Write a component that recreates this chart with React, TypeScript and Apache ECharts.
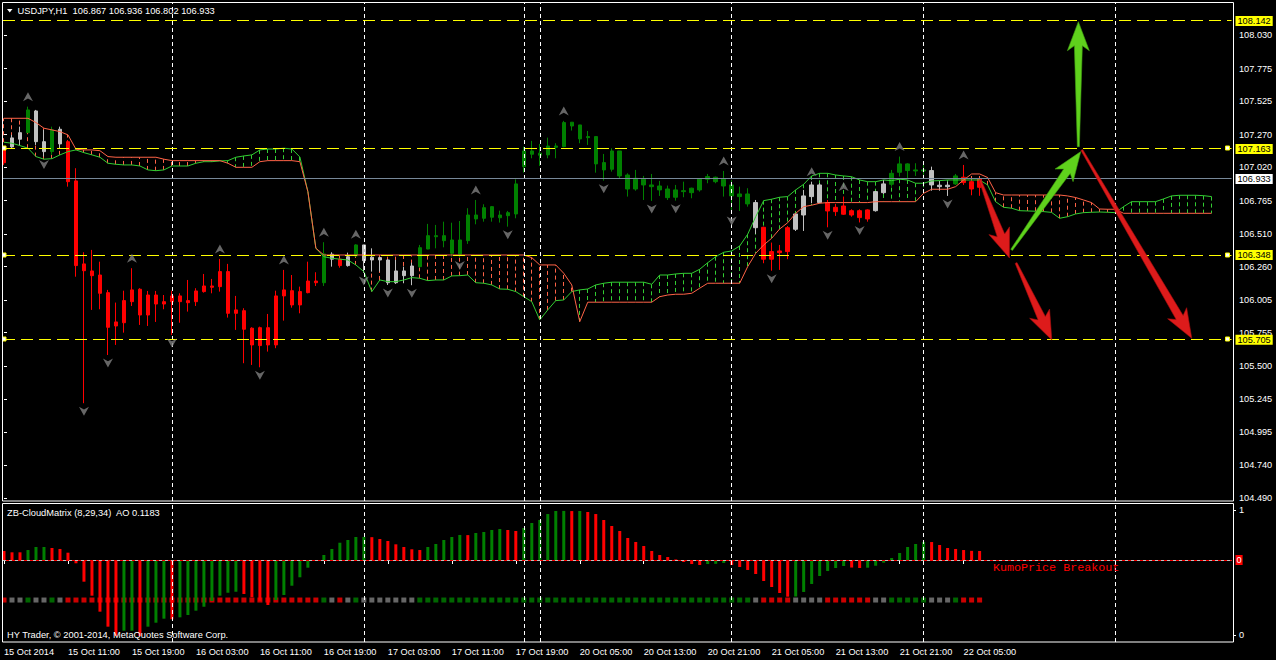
import React, { useEffect, useRef } from "react";
import * as echarts from "echarts";

// ---------------- data ----------------
const xTickLabels = [
  "15 Oct 2014", "15 Oct 11:00", "15 Oct 19:00", "16 Oct 03:00", "16 Oct 11:00", "16 Oct 19:00",
  "17 Oct 03:00", "17 Oct 11:00", "17 Oct 19:00", "20 Oct 05:00", "20 Oct 13:00", "20 Oct 21:00",
  "21 Oct 05:00", "21 Oct 13:00", "21 Oct 21:00", "22 Oct 05:00",
];

const priceTicks = [104.49, 104.74, 104.995, 105.245, 105.5, 105.755, 106.005, 106.26, 106.51, 106.765, 107.02, 107.27, 107.525, 107.775, 108.03];

const candleOpen = [
  107.166, 107.176, 107.235, 107.285, 107.451, 107.216, 107.14, 107.311, 107.216, 106.916,
  106.281, 106.227, 106.196, 106.061, 105.837, 106.0, 106.082, 106.087, 106.043, 106.043,
  105.992, 106.036, 106.036, 106.0, 106.074, 106.112, 106.112, 106.222, 106.222, 105.929,
  105.923, 105.789, 105.793, 105.793, 106.036, 106.082, 106.076, 106.069, 106.15, 106.15,
  106.137, 106.355, 106.317, 106.268, 106.342, 106.426, 106.311, 106.329, 106.311, 106.137,
  106.227, 106.191, 106.26, 106.395, 106.489, 106.459, 106.362, 106.355, 106.459, 106.625,
  106.63, 106.638, 106.634, 106.65, 106.663, 107.025, 107.12, 107.112, 107.115, 107.173,
  107.178, 107.336, 107.344, 107.247, 107.255, 107.056, 107.005, 107.145, 106.961, 106.854,
  106.929, 106.885, 106.877, 106.854, 106.791, 106.834, 106.826, 106.847, 106.929, 106.944,
  106.929, 106.885, 106.796, 106.816, 106.75, 106.561, 106.375, 106.38, 106.558, 106.546,
  106.655, 106.796, 106.885, 106.75, 106.714, 106.724, 106.688, 106.688, 106.694, 106.688,
  106.826, 106.89, 106.982, 107.046, 106.992, 107.0, 106.995, 106.883, 106.872, 106.893,
  106.944, 106.91, 106.867,
];
const candleClose = [
  107.055, 107.245, 107.285, 107.459, 107.216, 107.14, 107.306, 107.199, 106.91, 106.268,
  106.229, 106.191, 106.056, 105.796, 105.806, 105.831, 105.992, 105.89, 105.89, 105.974,
  105.974, 105.992, 105.992, 105.984, 105.992, 106.069, 106.102, 106.107, 105.903, 105.903,
  105.781, 105.661, 105.656, 105.661, 105.661, 106.036, 105.967, 105.967, 106.061, 106.137,
  106.357, 106.317, 106.268, 106.336, 106.426, 106.306, 106.332, 106.311, 106.137, 106.227,
  106.191, 106.265, 106.405, 106.497, 106.497, 106.497, 106.464, 106.464, 106.655, 106.655,
  106.711, 106.719, 106.655, 106.673, 106.893, 107.145, 107.145, 107.128, 107.183, 107.183,
  107.362, 107.365, 107.237, 107.255, 107.046, 107.0, 107.145, 106.954, 106.854, 106.936,
  106.885, 106.872, 106.847, 106.788, 106.847, 106.841, 106.86, 106.929, 106.949, 106.91,
  106.877, 106.801, 106.816, 106.74, 106.558, 106.317, 106.317, 106.367, 106.375, 106.663,
  106.801, 106.885, 106.75, 106.686, 106.681, 106.661, 106.655, 106.635, 106.625, 106.834,
  106.893, 106.974, 107.046, 106.995, 107.0, 106.992, 106.885, 106.872, 106.883, 106.954,
  106.903, 106.854, 106.933,
];
const candleHigh = [
  107.184, 107.268, 107.331, 107.484, 107.459, 107.306, 107.331, 107.331, 107.229, 107.013,
  106.37, 106.388, 106.298, 106.082, 105.985, 106.076, 106.248, 106.095, 106.074, 106.074,
  106.043, 106.076, 106.056, 106.158, 106.095, 106.204, 106.166, 106.319, 106.281, 106.036,
  105.942, 105.796, 105.801, 105.898, 106.076, 106.235, 106.196, 106.107, 106.298, 106.217,
  106.447, 106.37, 106.324, 106.367, 106.431, 106.426, 106.4, 106.336, 106.317, 106.311,
  106.26, 106.29, 106.426, 106.587, 106.579, 106.604, 106.596, 106.609, 106.707, 106.77,
  106.737, 106.724, 106.688, 106.686, 106.928, 107.178, 107.222, 107.199, 107.247, 107.204,
  107.375, 107.365, 107.344, 107.298, 107.255, 107.122, 107.166, 107.145, 106.974, 107.0,
  106.954, 106.969, 106.916, 106.88, 106.885, 106.91, 106.864, 106.929, 106.969, 106.949,
  106.992, 106.923, 106.872, 106.86, 106.77, 106.566, 106.444, 106.426, 106.571, 106.668,
  106.847, 106.91, 106.898, 106.77, 106.74, 106.796, 106.699, 106.699, 106.699, 106.839,
  106.923, 107.0, 107.102, 107.051, 107.051, 107.051, 107.025, 106.916, 106.91, 106.969,
  107.038, 106.923, 106.936,
];
const candleLow = [
  107.038, 107.168, 107.191, 107.283, 107.191, 107.102, 107.115, 107.166, 106.872, 106.183,
  105.215, 105.929, 105.934, 105.584, 105.661, 105.755, 105.959, 105.814, 105.806, 105.837,
  105.934, 105.737, 105.831, 105.916, 105.959, 106.061, 106.056, 106.069, 105.87, 105.776,
  105.521, 105.508, 105.49, 105.61, 105.636, 105.847, 105.946, 105.903, 106.056, 106.112,
  106.112, 106.26, 106.252, 106.26, 106.336, 106.212, 106.222, 106.222, 106.12, 106.128,
  106.133, 106.118, 106.252, 106.393, 106.4, 106.408, 106.336, 106.33, 106.434, 106.584,
  106.604, 106.604, 106.597, 106.566, 106.63, 106.979, 107.089, 107.03, 107.089, 107.089,
  107.173, 107.301, 107.204, 107.191, 106.979, 106.918, 106.987, 106.936, 106.796, 106.841,
  106.77, 106.763, 106.801, 106.77, 106.765, 106.791, 106.783, 106.834, 106.898, 106.898,
  106.796, 106.671, 106.686, 106.719, 106.51, 106.286, 106.229, 106.235, 106.317, 106.533,
  106.533, 106.745, 106.745, 106.561, 106.648, 106.655, 106.642, 106.598, 106.604, 106.681,
  106.816, 106.872, 106.949, 106.936, 106.954, 106.944, 106.841, 106.841, 106.801, 106.885,
  106.885, 106.806, 106.802,
];
// r = red, g = green, w = grey (candle colour, also the square row of the indicator)
const candleState = (
  "rwwgwwgw" +
  "rrrrrrrrrr" + "rrrrrrrrrr" + "rrrrrrrrrr" + "rr" +
  "gwrwg" + "wwwwwww" +
  "gggggggggg" + "gggggggggg" + "gggggggggg" + "gggggggggg" + "gg" +
  "w" + "rrrr" + "wwww" + "rrrrrr" + "ww" + "ggggg" + "www" + "g" + "rrr"
).split("");

const spanA = [
  107.212, 107.204, 107.186, 107.166, 107.102, 107.082, 107.086, 107.115, 107.14, 107.153,
  107.132, 107.115, 107.097, 107.051, 107.043, 107.038, 107.038, 107.03, 107.0, 106.994,
  107.0, 107.03, 107.03, 107.03, 107.051, 107.063, 107.063, 107.069, 107.071, 107.097,
  107.107, 107.115, 107.153, 107.16, 107.16, 107.166, 107.16, 107.099, 106.834, 106.401,
  106.336, 106.324, 106.317, 106.311, 106.273, 106.222, 106.069, 106.158, 106.145, 106.145,
  106.158, 106.176, 106.171, 106.153, 106.158, 106.158, 106.189, 106.191, 106.196, 106.137,
  106.133, 106.12, 106.089, 106.087, 106.069, 106.03, 105.992, 105.852, 105.929, 106.0,
  106.005, 106.069, 106.082, 106.089, 106.12, 106.133, 106.141, 106.141, 106.141, 106.141,
  106.141, 106.125, 106.196, 106.196, 106.204, 106.209, 106.209, 106.24, 106.29, 106.336,
  106.37, 106.38, 106.418, 106.508, 106.642, 106.765, 106.776, 106.791, 106.796, 106.847,
  106.89, 106.954, 106.974, 106.974, 106.961, 106.954, 106.948, 106.923, 106.91, 106.91,
  106.923, 106.918, 106.929, 106.923, 106.898, 106.898, 106.916, 106.918, 106.923, 106.923,
  106.923, 106.923, 106.923, 106.885, 106.757, 106.714, 106.707, 106.688, 106.686, 106.684,
  106.681, 106.675, 106.63, 106.642, 106.663, 106.673, 106.676, 106.678, 106.676, 106.673,
  106.719, 106.757, 106.757, 106.757, 106.757, 106.778, 106.801, 106.806, 106.806, 106.806,
  106.803, 106.796,
];
const spanB = [
  107.395, 107.395, 107.395, 107.395, 107.362, 107.319, 107.306, 107.293, 107.268, 107.158,
  107.153, 107.153, 107.147, 107.102, 107.097, 107.097, 107.097, 107.097, 107.097, 107.097,
  107.082, 107.071, 107.071, 107.071, 107.071, 107.071, 107.071, 107.071, 107.051, 107.02,
  107.02, 107.02, 107.063, 107.071, 107.071, 107.071, 107.071, 107.063, 106.834, 106.401,
  106.349, 106.349, 106.349, 106.349, 106.349, 106.349, 106.349, 106.349, 106.349, 106.349,
  106.349, 106.349, 106.349, 106.349, 106.349, 106.349, 106.349, 106.349, 106.349, 106.349,
  106.349, 106.349, 106.349, 106.349, 106.349, 106.349, 106.329, 106.273, 106.273, 106.273,
  106.209, 106.12, 105.839, 105.988, 105.988, 105.988, 105.988, 105.988, 105.988, 105.988,
  105.988, 105.988, 106.03, 106.043, 106.049, 106.049, 106.056, 106.095, 106.133, 106.133,
  106.133, 106.133, 106.133, 106.26, 106.362, 106.426, 106.477, 106.548, 106.596, 106.668,
  106.719, 106.73, 106.745, 106.75, 106.75, 106.75, 106.75, 106.75, 106.75, 106.757,
  106.757, 106.757, 106.757, 106.757, 106.757, 106.821, 106.852, 106.852, 106.852, 106.872,
  106.923, 106.969, 106.969, 106.942, 106.826, 106.808, 106.808, 106.808, 106.808, 106.808,
  106.808, 106.808, 106.808, 106.801, 106.789, 106.77, 106.75, 106.701, 106.699, 106.699,
  106.668, 106.668, 106.668, 106.668, 106.668, 106.668, 106.668, 106.668, 106.668, 106.668,
  106.668, 106.668,
];

const upFractalBars = [3, 16, 27, 35, 40, 44, 59, 70, 90, 101, 105, 112, 120];
const downFractalBars = [5, 10, 13, 21, 32, 45, 48, 51, 57, 63, 75, 81, 84, 91, 96, 103, 107, 118];

const aoValues = [
  0.118, 0.101, 0.101, 0.131, 0.171, 0.171, 0.158, 0.145, 0.096, -0.043,
  -0.285, -0.469, -0.679, -0.876, -0.999, -0.929, -0.929, -0.999, -0.876, -0.824,
  -0.771, -0.779, -0.753, -0.723, -0.666, -0.614, -0.539, -0.469, -0.43, -0.417,
  -0.447, -0.49, -0.535, -0.591, -0.526, -0.46, -0.338, -0.227, -0.101, -0.013,
  0.066, 0.145, 0.227, 0.263, 0.302, 0.303, 0.3, 0.276, 0.25, 0.206,
  0.171, 0.141, 0.131, 0.171, 0.21, 0.263, 0.302, 0.329, 0.327, 0.355,
  0.368, 0.394, 0.407, 0.394, 0.381, 0.42, 0.486, 0.526, 0.604, 0.644,
  0.645, 0.643, 0.644, 0.631, 0.604, 0.526, 0.447, 0.381, 0.289, 0.237,
  0.184, 0.118, 0.066, 0.039, 0.007, -0.026, -0.053, -0.066, -0.053, -0.05,
  -0.039, -0.066, -0.092, -0.131, -0.184, -0.276, -0.355, -0.434, -0.482, -0.48,
  -0.42, -0.315, -0.21, -0.145, -0.105, -0.079, -0.099, -0.105, -0.101, -0.075,
  -0.035, 0.026, 0.092, 0.171, 0.21, 0.237, 0.236, 0.197, 0.158, 0.145,
  0.131, 0.12, 0.1183,
];
const aoState = (
  "rrr" + "ggg" + "rrrrrrrrr" + "gg" + "r" + "ggg" + "r" + "gggggggg" + "rrrr" + "ggggg" + "r" +
  "gggggg" + "rrrrrrr" + "ggggg" + "r" + "gggg" + "rr" + "gggggg" + "r" + "g" +
  "rrrrrrrrrrrrrrr" + "ggg" + "rrrrrrrr" + "ggggggg" + "rr" + "gggggggg" + "rrrrrrr"
).split("");

const yellowLevels = [108.142, 107.163, 106.348, 105.705];
const yellowAnchored = [0, 1, 1, 1];
const bidPrice = 106.933;
const separatorBars = [21, 45, 65, 67, 91, 115, 139];

const arrowFromBar = [122.06, 126.56, 126.0, 134.35, 134.78];
const arrowFromPrice = [106.923, 106.288, 106.388, 107.178, 107.153];
const arrowToBar = [125.73, 131.03, 134.65, 134.35, 148.53];
const arrowToPrice = [106.327, 105.699, 107.14, 108.134, 105.712];
const arrowKind = ["down", "down", "up", "up", "down"];

// ---------------- layout / style ----------------
const N_SLOTS = 154;
const PRICE_MIN = 104.467;
const PRICE_MAX = 108.277;
const AO_MIN = -1.0775;
const AO_MAX = 0.749;
const SQUARE_LEVEL = -0.526;
const FONT = '"Liberation Sans", Arial, sans-serif';
const RED = "#FF0000";
const GREEN = "#008000";
const YELLOW = "#FFFF00";
const BID_GREY = "#778899";
const GREY_CANDLE = "#C0C0C0";
const GREY_SQUARE = "#808080";
const SPAN_A_COLOR = "#32CD32";
const SPAN_B_COLOR = "#FF6347";

const stateColor = (s: string, grey: string) => (s === "r" ? RED : s === "g" ? GREEN : grey);

function buildOption(): any {
  const categories = Array.from({ length: N_SLOTS }, (_, i) => String(i));
  const showTick = (idx: number) => idx % 8 === 0 && idx / 8 < xTickLabels.length;
  const nulls = categories.map(() => null);

  const candles = candleOpen.map((o, i) => {
    const c = stateColor(candleState[i], GREY_CANDLE);
    return {
      value: [o, candleClose[i], candleLow[i], candleHigh[i]],
      itemStyle: { color: c, color0: c, borderColor: c, borderColor0: c, borderColorDoji: c },
    };
  });

  const hatch = spanA.map((a, i) => [i, a, spanB[i]]);

  const priceBox = (v: number, bg: string) => ({
    show: true,
    position: "end",
    formatter: v.toFixed(3),
    backgroundColor: bg,
    color: "#000",
    padding: [1, 2, 0, 2],
    fontSize: 9.2,
    fontFamily: FONT,
    distance: 4,
  });

  // crisp horizontal price lines (snapped to the pixel grid): [price, isBid, hasAnchors]
  const levelLines = [...yellowLevels.map((v, i) => [v, 0, yellowAnchored[i]]), [bidPrice, 1, 0]];

  return {
    animation: false,
    backgroundColor: "#000",
    grid: [
      { left: -0.5, right: 44.5, top: 3, height: 498 },
      { left: -0.5, right: 44.5, top: 503, height: 139 },
    ],
    xAxis: [
      { type: "category", gridIndex: 0, data: categories, boundaryGap: true, show: false },
      {
        type: "category",
        gridIndex: 1,
        data: categories,
        boundaryGap: true,
        axisLine: { show: false },
        axisTick: { show: true, interval: showTick, alignWithLabel: true, length: 4, lineStyle: { color: "#fff" } },
        axisLabel: {
          interval: showTick,
          formatter: (v: string) => xTickLabels[Number(v) / 8] ?? "",
          color: "#fff",
          fontSize: 9.2,
          fontFamily: FONT,
          align: "left",
          margin: 5,
        },
        splitLine: { show: false },
      },
      { type: "value", gridIndex: 0, min: -0.5, max: N_SLOTS - 0.5, show: false },
    ],
    yAxis: [
      {
        type: "value",
        gridIndex: 0,
        position: "right",
        offset: 1.5,
        min: PRICE_MIN,
        max: PRICE_MAX,
        splitLine: { show: false },
        axisLine: { show: false },
        axisTick: { show: true, customValues: priceTicks, length: 3, lineStyle: { color: "#fff" } },
        axisLabel: {
          customValues: priceTicks,
          formatter: (v: number) => v.toFixed(3),
          color: "#fff",
          fontSize: 9.2,
          fontFamily: FONT,
          margin: 6,
        },
      },
      { type: "value", gridIndex: 1, position: "left", min: AO_MIN, max: AO_MAX, show: false },
      {
        type: "value",
        gridIndex: 1,
        position: "right",
        offset: 1.5,
        min: -0.056,
        max: 1.056,
        splitLine: { show: false },
        axisLine: { show: false },
        axisTick: { show: true, customValues: [0, 1], length: 3, lineStyle: { color: "#fff" } },
        axisLabel: {
          customValues: [0, 1],
          formatter: (v: number) => String(Math.round(v)),
          color: "#fff",
          fontSize: 9.2,
          fontFamily: FONT,
          margin: 6,
        },
      },
    ],
    series: [
      {
        type: "line",
        xAxisIndex: 0,
        yAxisIndex: 0,
        data: nulls,
        showSymbol: false,
        silent: true,
        z: 1,
        markLine: {
          silent: true,
          symbol: "none",
          label: { show: false },
          lineStyle: { color: "#fff", type: [4, 3], width: 1 },
          data: separatorBars.map((b) => ({ xAxis: b })),
        },
      },
      {
        type: "custom",
        xAxisIndex: 0,
        yAxisIndex: 0,
        silent: true,
        z: 2,
        data: hatch,
        renderItem: (params: any, api: any) => {
          const i = api.value(0);
          const a = api.value(1);
          const b = api.value(2);
          if (Math.abs(a - b) < 0.004) return null;
          const pa = api.coord([i, a]);
          const pb = api.coord([i, b]);
          const x = Math.floor(pa[0]) + 0.5;
          return {
            type: "line",
            shape: { x1: x, y1: pa[1], x2: x, y2: pb[1] },
            style: { stroke: a > b ? SPAN_A_COLOR : SPAN_B_COLOR, lineWidth: 1, lineDash: [4, 3] },
          };
        },
      },
      {
        type: "candlestick",
        xAxisIndex: 0,
        yAxisIndex: 0,
        barWidth: 4,
        z: 3,
        data: candles,
      },
      {
        type: "line",
        xAxisIndex: 0,
        yAxisIndex: 0,
        data: spanA,
        showSymbol: false,
        silent: true,
        z: 4,
        lineStyle: { color: SPAN_A_COLOR, width: 1 },
      },
      {
        type: "line",
        xAxisIndex: 0,
        yAxisIndex: 0,
        data: spanB,
        showSymbol: false,
        silent: true,
        z: 4,
        lineStyle: { color: SPAN_B_COLOR, width: 1 },
      },
      {
        type: "custom",
        xAxisIndex: 2,
        yAxisIndex: 0,
        silent: true,
        z: 5,
        clip: false,
        data: levelLines,
        renderItem: (params: any, api: any) => {
          const cs = params.coordSys;
          const y = Math.floor(api.coord([0, api.value(0)])[1]) + 0.5;
          const bid = api.value(1) === 1;
          const anchored = api.value(2) === 1;
          const children: any[] = [
            {
              type: "line",
              shape: { x1: cs.x + 3, y1: y, x2: cs.x + cs.width, y2: y },
              style: { stroke: bid ? BID_GREY : YELLOW, lineWidth: 1, lineDash: bid ? null : [12, 6] },
            },
          ];
          if (anchored) {
            const left = cs.x + 4;
            const right = cs.x + cs.width - 4;
            [left, right].forEach((cx) => {
              children.push({
                type: "rect",
                shape: { x: cx - 2, y: y - 2.5, width: 4, height: 4 },
                style: { fill: "#FFFFFF", stroke: YELLOW, lineWidth: 1 },
              });
            });
          }
          return { type: "group", children };
        },
      },
      {
        type: "line",
        xAxisIndex: 0,
        yAxisIndex: 0,
        data: nulls,
        showSymbol: false,
        silent: true,
        z: 6,
        markLine: {
          silent: true,
          symbol: "none",
          lineStyle: { color: "rgba(0,0,0,0)", width: 1 },
          data: [
            ...yellowLevels.map((v) => ({ yAxis: v, label: priceBox(v, YELLOW) })),
            { yAxis: bidPrice, label: priceBox(bidPrice, "#FFFFFF") },
          ],
        },
      },
      {
        type: "scatter",
        xAxisIndex: 0,
        yAxisIndex: 0,
        silent: true,
        z: 5,
        symbol: "path://M5,0L10,10L5,7L0,10Z",
        symbolSize: [10, 9],
        symbolOffset: [0, -10],
        itemStyle: { color: GREY_SQUARE },
        data: upFractalBars.map((b) => [b, candleHigh[b]]),
      },
      {
        type: "scatter",
        xAxisIndex: 0,
        yAxisIndex: 0,
        silent: true,
        z: 5,
        symbol: "path://M5,0L10,10L5,7L0,10Z",
        symbolRotate: 180,
        symbolSize: [10, 9],
        symbolOffset: [0, 8],
        itemStyle: { color: GREY_SQUARE },
        data: downFractalBars.map((b) => [b, candleLow[b]]),
      },
      {
        type: "custom",
        xAxisIndex: 2,
        yAxisIndex: 0,
        silent: true,
        z: 7,
        clip: false,
        data: arrowFromBar.map((b, i) => [b, arrowFromPrice[i], arrowToBar[i], arrowToPrice[i]]),
        renderItem: (params: any, api: any) => {
          const p0 = api.coord([api.value(0), api.value(1)]);
          const p1 = api.coord([api.value(2), api.value(3)]);
          const dx = p1[0] - p0[0];
          const dy = p1[1] - p0[1];
          const len = Math.hypot(dx, dy) || 1;
          const ux = dx / len;
          const uy = dy / len;
          const nx = -uy;
          const ny = ux;
          const headLen = 24;
          const headHalf = 11;
          const tailHalf = 1;
          const neckHalf = 4;
          const barb = 5;
          const bx = p1[0] - ux * headLen;
          const by = p1[1] - uy * headLen;
          const wx = bx - ux * barb;
          const wy = by - uy * barb;
          const up = arrowKind[params.dataIndex] === "up";
          return {
            type: "polygon",
            shape: {
              points: [
                [p0[0] + nx * tailHalf, p0[1] + ny * tailHalf],
                [bx + nx * neckHalf, by + ny * neckHalf],
                [wx + nx * headHalf, wy + ny * headHalf],
                [p1[0], p1[1]],
                [wx - nx * headHalf, wy - ny * headHalf],
                [bx - nx * neckHalf, by - ny * neckHalf],
                [p0[0] - nx * tailHalf, p0[1] - ny * tailHalf],
              ],
            },
            style: { fill: up ? "#5FD11C" : "#DD1B1B", stroke: up ? "#3FA010" : "#A80E0E", lineWidth: 0.6 },
          };
        },
      },
      // ---- indicator window ----
      {
        type: "line",
        xAxisIndex: 1,
        yAxisIndex: 1,
        data: nulls,
        showSymbol: false,
        silent: true,
        z: 1,
        markLine: {
          silent: true,
          symbol: "none",
          label: { show: false },
          lineStyle: { color: "#fff", type: [4, 3], width: 1 },
          data: separatorBars.map((b) => ({ xAxis: b })),
        },
      },
      {
        type: "scatter",
        xAxisIndex: 1,
        yAxisIndex: 1,
        silent: true,
        z: 2,
        symbol: "rect",
        symbolSize: 5,
        data: candleState.map((s, i) => ({ value: [i, SQUARE_LEVEL], itemStyle: { color: stateColor(s, GREY_SQUARE) } })),
      },
      {
        type: "bar",
        xAxisIndex: 1,
        yAxisIndex: 1,
        silent: true,
        z: 3,
        barWidth: 3,
        data: aoValues.map((v, i) => ({ value: v, itemStyle: { color: aoState[i] === "g" ? GREEN : RED } })),
        markLine: {
          silent: true,
          symbol: "none",
          data: [
            {
              yAxis: 0,
              lineStyle: { color: "#C0C0C0", type: "solid", width: 1 },
              label: {
                show: true,
                position: "end",
                formatter: "0",
                backgroundColor: RED,
                color: "#fff",
                padding: [1, 1, 0, 1],
                fontSize: 9.2,
                fontFamily: FONT,
                distance: 4,
              },
            },
            { yAxis: 0, lineStyle: { color: RED, type: [3, 3], width: 1 }, label: { show: false } },
          ],
        },
      },
    ],
    graphic: [
      { type: "rect", silent: true, z: 100, shape: { x: 0, y: 0, width: 2.5, height: 660 }, style: { fill: "#000" } },
      { type: "rect", silent: true, z: 101, shape: { x: 2.5, y: 2.5, width: 1231, height: 498.5 }, style: { fill: "none", stroke: "#fff", lineWidth: 1 } },
      { type: "rect", silent: true, z: 101, shape: { x: 2.5, y: 503.5, width: 1231, height: 138.5 }, style: { fill: "none", stroke: "#fff", lineWidth: 1 } },
      { type: "polygon", silent: true, z: 101, shape: { points: [[7, 9], [12.5, 9], [9.75, 12.5]] }, style: { fill: "#fff" } },
      {
        type: "text",
        silent: true,
        z: 101,
        x: 17.5,
        y: 10.8,
        style: { text: "USDJPY,H1  106.867 106.936 106.802 106.933", fill: "#fff", font: `9.3px ${FONT}`, align: "left", verticalAlign: "middle" },
      },
      {
        type: "text",
        silent: true,
        z: 101,
        x: 7,
        y: 513,
        style: { text: "ZB-CloudMatrix (8,29,34)  AO 0.1183", fill: "#fff", font: `9.3px ${FONT}`, align: "left", verticalAlign: "middle" },
      },
      {
        type: "text",
        silent: true,
        z: 101,
        x: 7,
        y: 635,
        style: { text: "HY Trader, © 2001-2014, MetaQuotes Software Corp.", fill: "#fff", font: `9.3px ${FONT}`, align: "left", verticalAlign: "middle" },
      },
      {
        type: "text",
        silent: true,
        z: 101,
        x: 993,
        y: 567.5,
        style: { text: "KumoPrice Breakout", fill: RED, font: '11.7px "Liberation Mono", "Courier New", monospace', align: "left", verticalAlign: "middle" },
      },
    ],
  };
}

export default function App() {
  const ref = useRef<HTMLDivElement>(null);
  useEffect(() => {
    if (!ref.current) return;
    const chart = echarts.init(ref.current, null, { renderer: "svg" });
    chart.setOption(buildOption());
    return () => chart.dispose();
  }, []);
  return (
    <div
      ref={ref}
      style={{ position: "fixed", left: 0, top: 0, width: 1276, height: 660, background: "#000" }}
    />
  );
}
